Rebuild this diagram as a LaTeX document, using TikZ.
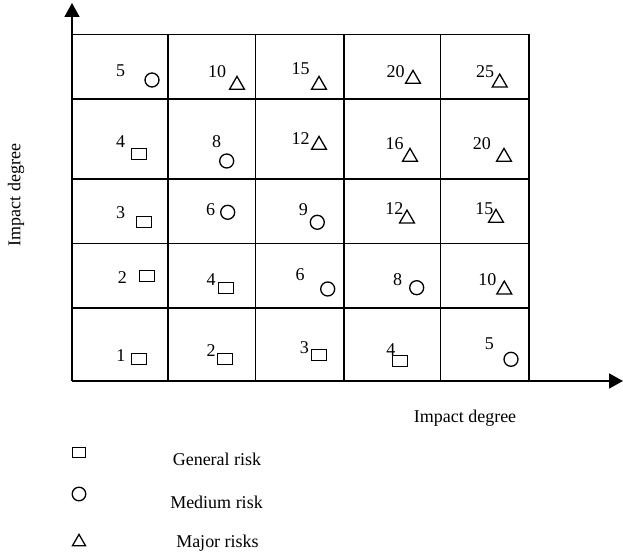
\documentclass[tikz,border=0pt]{standalone}
\usepackage{fontspec}
\setmainfont{Liberation Serif}
\usetikzlibrary{arrows.meta,shapes.geometric}

\begin{document}
\begin{tikzpicture}[x=0.5pt,y=-0.5pt,
  gridline/.style={line width=0.85pt},
  axis/.style={line width=0.85pt,-{Triangle[length=7pt,width=7.5pt]}},
  num/.style={inner sep=0pt,font=\fontsize{9}{10}\selectfont},
  lbl/.style={inner sep=0pt,font=\fontsize{9}{10}\selectfont},
  sq/.style={draw,line width=0.65pt,rectangle,inner sep=0pt,minimum width=7.5pt,minimum height=5.5pt},
  circ/.style={draw,line width=0.65pt,circle,inner sep=0pt,minimum size=7pt},
  tri/.style={draw,line width=0.65pt,regular polygon,regular polygon sides=3,inner sep=0pt,minimum size=8.6pt,yshift=-1pt},
  lsq/.style={sq,minimum width=6.5pt,minimum height=5pt},
  lcirc/.style={circ,minimum size=6.8pt},
  ltri/.style={tri,minimum size=7.6pt}]
  \useasboundingbox (0,0) rectangle (623,556);

  % risk matrix grid
  \foreach \gx in {72,168,255.5,344,440.5,529}
    \draw[gridline] (\gx,34.5) -- (\gx,381);
  \foreach \gy in {34.5,99,179,243.5,308}
    \draw[gridline] (72,\gy) -- (529,\gy);

  % axes
  \coordinate (origin) at (72,381);
  \coordinate (ytip) at (72,3);
  \coordinate (xtip) at (623,381);
  \draw[axis] (origin) -- (ytip);
  \draw[axis] (origin) -- (xtip);

  % cell scores with their risk class
  \foreach \n/\lx/\ly/\t/\s/\sx/\sy in {
    a/120.7/71/5/circ/152/80,
    b/217/71.7/10/tri/237/83,
    c/300.7/69/15/tri/319/83,
    d/395.7/71.7/20/tri/413/77,
    e/485/71.7/25/tri/499.7/80.7,
    f/120.7/141.7/4/sq/139/154,
    g/216.7/141.7/8/circ/226.7/161,
    h/300.7/139/12/tri/319/143,
    i/394.7/144/16/tri/410/155,
    j/482/144/20/tri/504/155,
    k/120.7/212.3/3/sq/143.7/221.7,
    l/210.7/210/6/circ/227.7/212.3,
    m/303.3/210/9/circ/317.3/222.3,
    n/394.3/209/12/tri/407/216.7,
    o/484.3/209/15/tri/496/216,
    p/122.3/277.3/2/sq/147.3/276,
    q/211/280/4/sq/226/287.7,
    r/300/275/6/circ/327.7/289,
    s/397.7/280/8/circ/416.7/287.7,
    t/487.3/280/10/tri/504.3/287.7,
    u/121/355.7/1/sq/138.7/359.3,
    v/211/350.7/2/sq/224.7/359.3,
    w/304.3/347.3/3/sq/319.3/355,
    x/391/349.3/4/sq/400/360.7,
    y/489.3/344/5/circ/511/359.3}
  {
    \node[num] (score-\n) at (\lx,\ly) {\t};
    \node[\s] (mark-\n) at (\sx,\sy) {};
  }

  % axis titles
  \node[lbl] (xtitle) at (465,418) {Impact degree};
  \node[lbl,rotate=90] (ytitle) at (16,195) {Impact degree};

  % legend
  \node[lsq] (key-general) at (79,452.7) {};
  \node[lcirc] (key-medium) at (79,494) {};
  \node[ltri] (key-major) at (79,540) {};
  \node[lbl] (txt-general) at (217,459) {General risk};
  \node[lbl] (txt-medium) at (216.5,502) {Medium risk};
  \node[lbl] (txt-major) at (217.5,543) {Major risks};
\end{tikzpicture}
\end{document}
